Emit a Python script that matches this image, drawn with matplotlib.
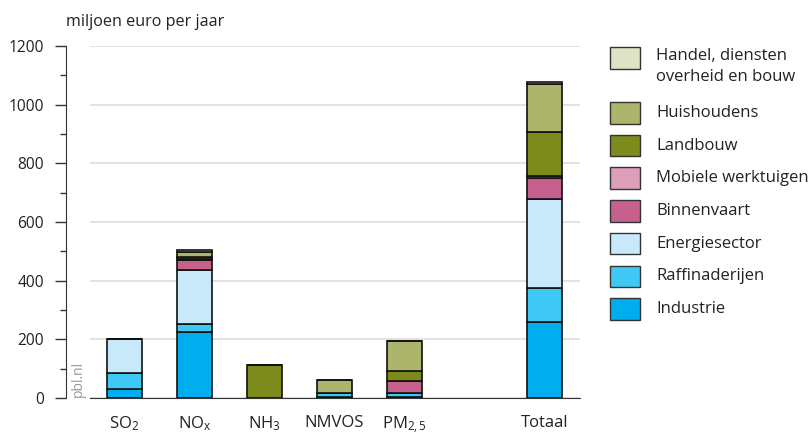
import numpy as np
import matplotlib.pyplot as plt
from matplotlib.patches import Rectangle

plt.rcParams["font.family"] = ["Open Sans", "DejaVu Sans"]
plt.rcParams["mathtext.fontset"] = "custom"
plt.rcParams["mathtext.rm"] = "Open Sans"
plt.rcParams["mathtext.it"] = "Open Sans"

# stoffen en posities
categories = ["SO$_2$", "NO$_\\mathrm{x}$", "NH$_3$", "NMVOS", "PM$_{\\mathrm{2,5}}$", "Totaal"]
positions = [0, 1, 2, 3, 4, 6]

# waarden (miljoen euro per jaar)
industrie = [30, 224, 0, 3, 2, 260]
raffinaderijen = [55, 27, 0, 13, 16, 114]
energiesector = [116, 186, 0, 0, 0, 303]
binnenvaart = [0, 32, 0, 0, 40, 72]
mobiele = [0, 6, 0, 0, 0, 8]
landbouw = [0, 5, 113, 0, 34, 151]
huishoudens = [0, 17, 0, 45, 102, 161]
handel = [1, 6, 0, 2, 2, 7]

series = [
    ("Industrie", industrie, "#00aeef"),
    ("Raffinaderijen", raffinaderijen, "#40c8f4"),
    ("Energiesector", energiesector, "#c8e9fa"),
    ("Binnenvaart", binnenvaart, "#c6608c"),
    ("Mobiele werktuigen", mobiele, "#dc9eb8"),
    ("Landbouw", landbouw, "#7d8a1c"),
    ("Huishoudens", huishoudens, "#adb56c"),
    ("Handel, diensten\noverheid en bouw", handel, "#dfe3c5"),
]

W, H = 809, 442
fig = plt.figure(figsize=(W / 100, H / 100), dpi=100)
ax = fig.add_axes([90 / W, 1 - 398 / H, 490 / W, 352 / H])

bottom = np.zeros(len(positions))
for name, vals, col in series:
    vals = np.array(vals, dtype=float)
    ax.bar(positions, vals, bottom=bottom, width=0.5, color=col,
           edgecolor="#111111", linewidth=1.2, label=name, zorder=3)
    bottom += vals

ax.set_xlim(-0.49, 6.51)
ax.set_ylim(0, 1200)
ax.set_yticks(range(0, 1201, 200))
ax.set_yticks(range(100, 1200, 200), minor=True)
ax.set_xticks(positions)
ax.set_xticklabels(categories, fontsize=12, color="#222222")
ax.tick_params(axis="x", length=0, pad=12)
ax.tick_params(axis="y", which="major", length=8, width=1, color="#333333",
               labelsize=11.2, labelcolor="#222222", pad=8)
ax.tick_params(axis="y", which="minor", length=4, width=1, color="#333333")

ax.yaxis.grid(True, color="#dddddd", linewidth=1.2, zorder=0)
ax.set_axisbelow(True)
for s in ["top", "right"]:
    ax.spines[s].set_visible(False)
ax.spines["left"].set_position(("outward", 17))
ax.spines["left"].set_color("#333333")
ax.spines["bottom"].set_color("#333333")
ax.spines["bottom"].set_zorder(5)

fig.text(66 / W, 1 - 22 / H, "miljoen euro per jaar", fontsize=11.6,
         color="#222222", va="center", ha="left")
fig.text(78 / W, 1 - 397 / H, "pbl.nl", fontsize=10, color="#999999",
         rotation=90, ha="center", va="bottom")

# legenda met de hand, bovenste item eerst
legend_items = series[::-1]
tops = [47] + [102 + 32.7 * i for i in range(7)]
for (name, vals, col), top in zip(legend_items, tops):
    fig.add_artist(Rectangle((610 / W, 1 - (top + 21.5) / H), 30 / W, 21.5 / H,
                             transform=fig.transFigure, facecolor=col,
                             edgecolor="#333333", linewidth=1.0))
    if "\n" in name:
        fig.text(656 / W, 1 - (top + 1.5) / H, name, fontsize=12, color="#222222",
                 ha="left", va="top", linespacing=1.35)
    else:
        fig.text(656 / W, 1 - (top + 11) / H, name, fontsize=12, color="#222222",
                 ha="left", va="center")

fig.savefig("out.png", dpi=100)
